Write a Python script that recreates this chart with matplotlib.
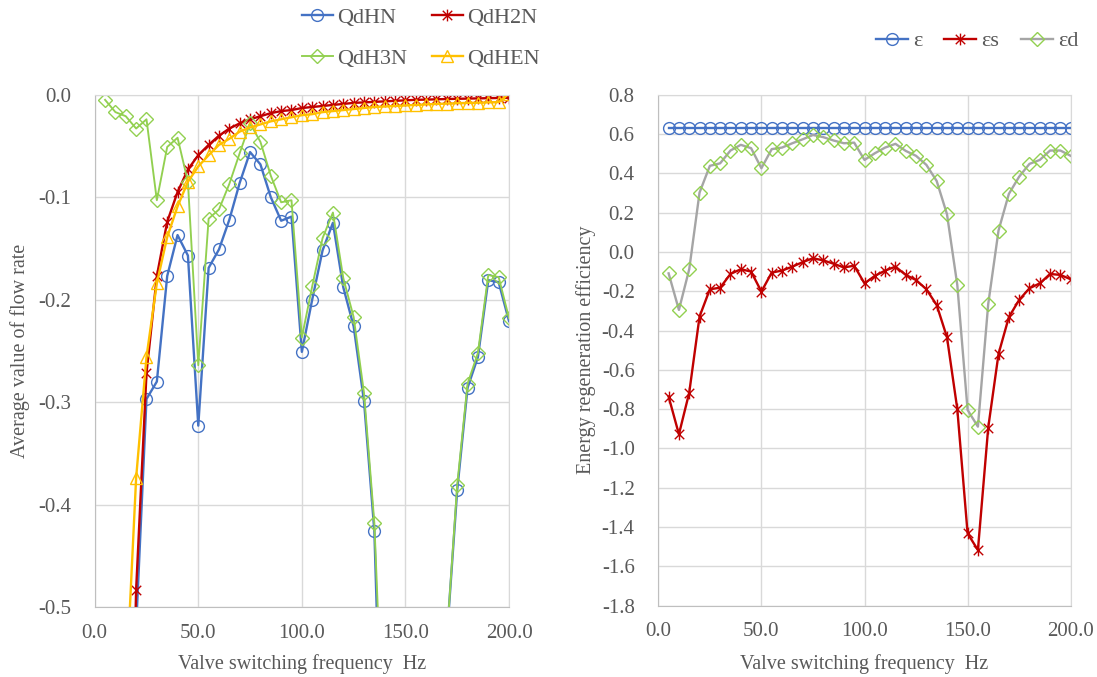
import matplotlib
matplotlib.use("Agg")
import matplotlib.pyplot as plt
from matplotlib.path import Path

# ---------------- data ----------------
freq = [5, 10, 15, 20, 25, 30, 35, 40, 45, 50, 55, 60, 65, 70, 75, 80, 85, 90, 95, 100,
        105, 110, 115, 120, 125, 130, 135, 140, 145, 150, 155, 160, 165, 170, 175, 180, 185, 190, 195, 200]

qdhn = [-3.0, -2.5, -1.5, -0.52, -0.297, -0.280, -0.177, -0.137, -0.157, -0.323,
        -0.169, -0.151, -0.122, -0.086, -0.056, -0.068, -0.100, -0.123, -0.119, -0.251,
        -0.200, -0.152, -0.125, -0.188, -0.226, -0.299, -0.426, -0.76, -1.0, -1.2,
        -1.3, -1.1, -0.9, -0.53, -0.386, -0.286, -0.256, -0.181, -0.183, -0.221]

qdh2n = [-6.0, -2.0, -0.9, -0.483, -0.272, -0.177, -0.124, -0.095, -0.073, -0.059,
         -0.049, -0.040, -0.033, -0.028, -0.024, -0.021, -0.018, -0.016, -0.015, -0.013,
         -0.012, -0.011, -0.010, -0.009, -0.008, -0.0075, -0.007, -0.0065, -0.006, -0.0055,
         -0.005, -0.0048, -0.0045, -0.0042, -0.004, -0.0038, -0.0036, -0.0034, -0.0032, -0.003]

qdh3n = [-0.005, -0.017, -0.021, -0.033, -0.024, -0.103, -0.051, -0.042, -0.085, -0.264,
         -0.121, -0.112, -0.087, -0.057, -0.028, -0.046, -0.079, -0.105, -0.103, -0.237,
         -0.187, -0.140, -0.115, -0.179, -0.217, -0.291, -0.418, -0.67, -0.9, -1.1,
         -1.2, -1.0, -0.8, -0.53, -0.381, -0.282, -0.252, -0.176, -0.178, -0.218]

qdhen = [-5.0, -1.6, -0.584, -0.374, -0.256, -0.184, -0.139, -0.109, -0.085, -0.070,
         -0.059, -0.049, -0.043, -0.036, -0.032, -0.029, -0.026, -0.024, -0.022, -0.020,
         -0.019, -0.017, -0.016, -0.015, -0.014, -0.013, -0.012, -0.0115, -0.011, -0.0105,
         -0.010, -0.0095, -0.009, -0.0087, -0.0083, -0.008, -0.0078, -0.0075, -0.0072, 0.001]

eps = [0.63] * 40

eps_s = [-0.736, -0.928, -0.716, -0.329, -0.190, -0.182, -0.112, -0.088, -0.100, -0.202,
         -0.105, -0.095, -0.075, -0.052, -0.032, -0.043, -0.060, -0.079, -0.070, -0.160,
         -0.122, -0.095, -0.075, -0.117, -0.143, -0.190, -0.270, -0.434, -0.799, -1.432,
         -1.517, -0.894, -0.519, -0.332, -0.244, -0.185, -0.160, -0.112, -0.117, -0.139]

eps_d = [-0.109, -0.295, -0.088, 0.302, 0.438, 0.451, 0.516, 0.545, 0.528, 0.426,
         0.523, 0.531, 0.553, 0.573, 0.595, 0.584, 0.567, 0.553, 0.556, 0.468,
         0.502, 0.531, 0.550, 0.514, 0.489, 0.443, 0.361, 0.192, -0.168, -0.804,
         -0.889, -0.265, 0.109, 0.295, 0.383, 0.448, 0.468, 0.516, 0.516, 0.489]

left_xticks = [0, 50, 100, 150, 200]
left_yticks = [0.0, -0.1, -0.2, -0.3, -0.4, -0.5]
right_yticks = [0.8, 0.6, 0.4, 0.2, 0.0, -0.2, -0.4, -0.6, -0.8, -1.0, -1.2, -1.4, -1.6, -1.8]

# ---------------- style ----------------
plt.rcParams['font.family'] = ['Liberation Serif', 'DejaVu Serif']
TXT = '#595959'
GRID = '#d9d9d9'
BLUE = '#4472C4'
RED = '#C00000'
GREEN = '#92D050'
YELLOW = '#FFC000'
GREY = '#A5A5A5'

star = Path([(-1, -1), (1, 1), (-1, 1), (1, -1), (0, -1.25), (0, 1.25)],
            [Path.MOVETO, Path.LINETO, Path.MOVETO, Path.LINETO, Path.MOVETO, Path.LINETO])

fig = plt.figure(figsize=(10.97, 6.77), dpi=100)
ax1 = fig.add_axes([94.7 / 1097, 1 - 607 / 677, (509 - 94.7) / 1097, (607 - 94.7) / 677])
ax2 = fig.add_axes([658.3 / 1097, 1 - 605.7 / 677, (1070.7 - 658.3) / 1097, (605.7 - 94.7) / 677])

lw = 1.7
mew = 1.0
ms = 8.5
msd = 7.5

h1, = ax1.plot(freq, qdhn, color=BLUE, lw=lw, marker='o', ms=ms, mfc='none', mec=BLUE, mew=mew, label='QdHN')
h2, = ax1.plot(freq, qdh2n, color=RED, lw=lw, marker=star, ms=ms, mfc='none', mec=RED, mew=mew, label='QdH2N')
h3, = ax1.plot(freq, qdh3n, color=GREEN, lw=lw * 0.8, marker='D', ms=msd, mfc='none', mec=GREEN, mew=mew, label='QdH3N')
h4, = ax1.plot(freq, qdhen, color=YELLOW, lw=lw, marker='^', ms=ms, mfc='none', mec=YELLOW, mew=mew, label='QdHEN')

g1, = ax2.plot(freq, eps, color=BLUE, lw=lw, marker='o', ms=ms, mfc='none', mec=BLUE, mew=mew, label='ε')
g2, = ax2.plot(freq, eps_s, color=RED, lw=lw, marker=star, ms=ms, mfc='none', mec=RED, mew=mew, label='εs')
g3, = ax2.plot(freq, eps_d, color=GREY, lw=lw, marker='D', ms=msd, mfc='none', mec=GREEN, mew=mew, label='εd')

for ax in (ax1, ax2):
    ax.set_xlim(0, 200)
    ax.set_xticks(left_xticks)
    ax.set_xticklabels([f'{v:.1f}' for v in left_xticks])
    ax.grid(True, color=GRID, lw=1.0)
    ax.set_axisbelow(True)
    for s in ax.spines.values():
        s.set_color(GRID)
    ax.spines['left'].set_color('#bfbfbf')
    ax.spines['bottom'].set_color('#bfbfbf')
    ax.tick_params(length=0, labelsize=15, labelcolor=TXT)
    ax.tick_params(axis='y', pad=17)
    ax.tick_params(axis='x', pad=12)
    ax.set_xlabel('Valve switching frequency  Hz', fontsize=14.5, color=TXT)

ax1.set_ylim(-0.5, 0.0)
ax1.set_yticks(left_yticks)
ax1.set_yticklabels([f'{v:.1f}' for v in left_yticks])
ax1.set_ylabel('Average value of flow rate', fontsize=14.5, color=TXT)
ax1.yaxis.set_label_coords(-0.155, 0.5)
ax1.xaxis.set_label_coords(0.5, -0.092)

ax2.set_ylim(-1.8, 0.8)
ax2.set_yticks(right_yticks)
ax2.set_yticklabels([f'{v:.1f}' for v in right_yticks])
ax2.set_ylabel('Energy regeneration efficiency', fontsize=14.5, color=TXT)
ax2.yaxis.set_label_coords(-0.152, 0.5)
ax2.xaxis.set_label_coords(0.5, -0.0946)

leg1 = fig.legend(handles=[h1, h3, h2, h4], ncol=2, loc='center',
                  bbox_to_anchor=(421 / 1097, 1 - 38 / 677), frameon=False,
                  fontsize=16, handlelength=1.4, handletextpad=0.2, columnspacing=1.1,
                  labelspacing=0.9, borderpad=0)
for t in leg1.get_texts():
    t.set_color(TXT)

leg2 = fig.legend(handles=[g1, g2, g3], ncol=3, loc='center',
                  bbox_to_anchor=(977 / 1097, 1 - 41 / 677), frameon=False,
                  fontsize=16, handlelength=1.45, handletextpad=0.2, columnspacing=1.0,
                  borderpad=0)
for t in leg2.get_texts():
    t.set_color(TXT)

fig.savefig('out.png', dpi=100, facecolor='white')
